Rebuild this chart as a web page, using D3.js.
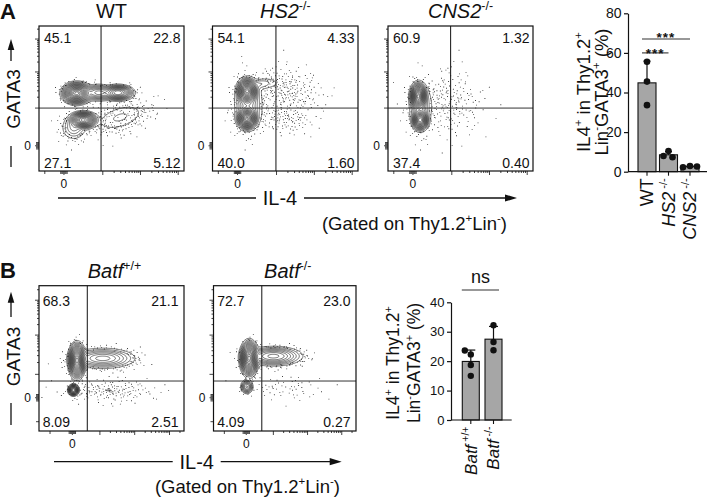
<!DOCTYPE html>
<html>
<head>
<meta charset="utf-8">
<script src="https://cdn.jsdelivr.net/npm/d3@7/dist/d3.min.js"></script>
<style>
html,body{margin:0;padding:0;background:#fff;}
svg{display:block;}
</style>
</head>
<body>
<svg id="fig" width="708" height="498" viewBox="0 0 708 498"></svg>
<script>
// ====================== DATA ======================
// Flow plots: IL-4 (x) vs GATA3 (y), axis units = display-scale fraction 0..1
const flowTitlesA = [[["WT"]], [["HS2","i"],["-/-","s"]], [["CNS2","i"],["-/-","s"]]];
const flowTitlesB = [[["Batf","i"],["+/+","s"]], [["Batf","i"],["-/-","s"]]];
const quadrantsA = [["45.1","22.8","27.1","5.12"], ["54.1","4.33","40.0","1.60"], ["60.9","1.32","37.4","0.40"]];
const quadrantsB = [["68.3","21.1","8.09","2.51"], ["72.7","23.0","4.09","0.27"]];
const gatesA = [[0.428,0.434],[0.436,0.434],[0.432,0.434]];
const gatesB = [[0.333,0.344],[0.339,0.344]];
// cell populations: [centerX, centerY, sdX, sdY, weight, correlation]
const popsWT = [[0.26,0.536,0.038,0.028,0.38,0],[0.545,0.54,0.042,0.021,0.16,0],[0.41,0.54,0.045,0.024,0.07,0],
                [0.305,0.352,0.036,0.022,0.22,0],[0.24,0.30,0.04,0.04,0.03,0],[0.56,0.37,0.1,0.055,0.035,0.45]];
const popsHS2 = [[0.238,0.55,0.026,0.033,0.40,0],[0.238,0.363,0.026,0.028,0.33,0],[0.245,0.455,0.045,0.08,0.13,0],
                 [0.33,0.6,0.05,0.02,0.012,0.3],[0.5,0.56,0.11,0.07,0.032,-0.2],[0.48,0.37,0.09,0.05,0.018,0]];
const popsCNS2 = [[0.209,0.515,0.021,0.035,0.48,0],[0.222,0.352,0.021,0.027,0.3,0],[0.222,0.44,0.036,0.075,0.12,0],
                  [0.4,0.47,0.11,0.1,0.035,0]];
const popsBatfWT = [[0.262,0.485,0.022,0.045,0.55,0],[0.44,0.50,0.095,0.03,0.22,0],[0.237,0.282,0.014,0.015,0.07,0],
                    [0.48,0.28,0.14,0.035,0.025,0]];
const popsBatfKO = [[0.25,0.50,0.024,0.045,0.6,0],[0.42,0.515,0.085,0.028,0.24,0],[0.234,0.305,0.018,0.02,0.035,0],
                    [0.5,0.3,0.12,0.04,0.006,0]];
// axis ticks of flow plots (display-scale positions)
const flowYTicksA = {zero:0.174, majors:[0.434,0.683,0.91], neg:[]};
const flowXTicksA = {zero:0.172, majors:[0.44,0.70,0.96], neg:[0.04]};
const flowYTicksB = {zero:0.229, majors:[0.39,0.66,0.90], neg:[0.064]};
const flowXTicksB = {zero:0.23, majors:[0.42,0.66,0.90], neg:[0.076]};

// Bar chart A
const barCatsA = ["WT","HS2","CNS2"];
const barLabelsA = [[["WT"]], [["HS2","i"],["\u00a0-/-","s"]], [["CNS2","i"],["\u00a0-/-","s"]]];
const barPointsA = [[55.5,45.5,33.6],[10.4,7.9,7.3],[2.9,2.2,2.6]];
const barTicksA = [0,20,40,60,80];
const sigA = [{a:"WT",b:"HS2",y:60,label:"***"},{a:"WT",b:"CNS2",y:67,label:"***"}];
// Bar chart B
const barCatsB = ["Batf+/+","Batf-/-"];
const barLabelsB = [[["Batf","i"],["\u00a0+/+","s"]], [["Batf","i"],["\u00a0-/-","s"]]];
const barPointsB = [[22.3,23.6,18.7,15.0],[32.2,26.5,23.7]];
const barTicksB = [0,10,20,30,40];
const sigB = [{a:"Batf+/+",b:"Batf-/-",y:44.2,label:"ns"}];

// ====================== DRAWING ======================
const FONT = '"Liberation Sans", Arial, Helvetica, sans-serif';
const svg = d3.select("#fig").attr("font-family", FONT);
const INK = "#111";

function rich(sel, parts, fs) {
  let up = false;
  parts.forEach(([t, st]) => {
    const ts = sel.append("tspan").text(t);
    const s = st || "";
    if (s.includes("i")) ts.attr("font-style", "italic");
    if (s.includes("s")) {
      ts.attr("font-size", fs * 0.62);
      if (!up) { ts.attr("dy", -fs * 0.42); up = true; }
    } else if (up) { ts.attr("dy", fs * 0.42); up = false; }
  });
  return sel;
}

const levelsRel = [0.009,0.018,0.03,0.045,0.065,0.09,0.12,0.16,0.21,0.27,0.34,0.42,0.51,0.61,0.72,0.84,0.94];
const LOW = 0.009;
function dotP(r) {
  if (r < LOW) return 0.14 * Math.pow(r / LOW, 0.7);
  if (r < 2.5 * LOW) return 0.14 * (1 - (r - LOW) / (1.5 * LOW));
  return 0;
}
function halton(n, b) { let f = 1, r = 0; while (n > 0) { f /= b; r += f * (n % b); n = Math.floor(n / b); } return r; }
let clipId = 0;
function flowPlot(box, pops, gate, quad, title, xt, yt, o) {
  const g = svg.append("g");
  const x = d3.scaleLinear().domain([0,1]).range([box.x, box.x + box.w]);
  const y = d3.scaleLinear().domain([0,1]).range([box.y + box.h, box.y]);
  const nx = Math.round(box.w), ny = Math.round(box.h);
  const vals = new Float64Array(nx * ny);
  for (let j = 0; j < ny; j++) {
    const yn = y.invert(box.y + (j + 0.5) * box.h / ny);
    for (let i = 0; i < nx; i++) {
      const xn = x.invert(box.x + (i + 0.5) * box.w / nx);
      let s = 0;
      for (const [cx, cy, sx, sy, w, rho] of pops) {
        const dx = (xn - cx) / sx, dy = (yn - cy) / sy;
        const k = 1 - rho * rho;
        s += w / (2 * Math.PI * sx * sy * Math.sqrt(k)) * Math.exp(-(dx*dx - 2*rho*dx*dy + dy*dy) / (2 * k));
      }
      vals[j * nx + i] = s;
    }
  }
  const max = d3.max(vals);
  const id = "clip" + (clipId++);
  svg.append("clipPath").attr("id", id).append("rect")
    .attr("x", box.x).attr("y", box.y).attr("width", box.w).attr("height", box.h);
  const gc = g.append("g").attr("clip-path", `url(#${id})`);
  // outlier events: low-discrepancy (Halton) stipple weighted by population density
  let dp = "";
  for (let n = 1; n <= 26000; n++) {
    const u = halton(n, 2), v = halton(n, 3), t = halton(n, 5);
    const i = Math.min(nx - 1, Math.floor(u * nx)), j = Math.min(ny - 1, Math.floor(v * ny));
    if (t < dotP(vals[j * nx + i] / max)) {
      const px = box.x + u * box.w, py = box.y + v * box.h;
      dp += `M${px.toFixed(1)},${py.toFixed(1)}h0.85v0.85h-0.85z`;
    }
  }
  gc.append("path").attr("d", dp).attr("fill", "#222");
  const cont = d3.contours().size([nx, ny]).thresholds(levelsRel.map(l => l * max))(vals);
  gc.append("g").attr("transform", `translate(${box.x},${box.y}) scale(${box.w/nx},${box.h/ny})`)
    .selectAll("path").data(cont).join("path")
    .attr("d", d3.geoPath())
    .attr("fill", "none").attr("stroke", "#151515").attr("stroke-width", 0.6)
    .attr("vector-effect", "non-scaling-stroke");
  // gates
  g.append("line").attr("x1", x(gate[0])).attr("x2", x(gate[0])).attr("y1", box.y).attr("y2", box.y + box.h)
    .attr("stroke", INK).attr("stroke-width", 1);
  g.append("line").attr("x1", box.x).attr("x2", box.x + box.w).attr("y1", y(gate[1])).attr("y2", y(gate[1]))
    .attr("stroke", "#333").attr("stroke-width", 1);
  // frame
  g.append("rect").attr("x", box.x).attr("y", box.y).attr("width", box.w).attr("height", box.h)
    .attr("fill", "none").attr("stroke", INK).attr("stroke-width", 1.2);
  // ticks
  const tk = (arr) => {
    const out = [];
    arr.majors.forEach((m, k) => {
      out.push([m, 4]);
      const nxt = k < arr.majors.length - 1 ? arr.majors[k+1] : m + (m - arr.majors[k-1]);
      for (let q = 2; q <= 9; q++) { const p = m + (nxt - m) * Math.log10(q); if (p < 1) out.push([p, 2]); }
    });
    [-0.022,-0.014,-0.007,0.007,0.014,0.022].forEach(d => out.push([arr.zero + d, 3]));
    out.push([arr.zero, 4]);
    arr.neg.forEach(p => out.push([p, 3]));
    return out;
  };
  g.append("g").selectAll("line").data(tk(yt)).join("line")
    .attr("x1", box.x).attr("x2", d => box.x - d[1]).attr("y1", d => y(d[0])).attr("y2", d => y(d[0]))
    .attr("stroke", INK).attr("stroke-width", 0.8);
  g.append("g").selectAll("line").data(tk(xt)).join("line")
    .attr("y1", box.y + box.h).attr("y2", d => box.y + box.h + d[1]).attr("x1", d => x(d[0])).attr("x2", d => x(d[0]))
    .attr("stroke", INK).attr("stroke-width", 0.8);
  g.append("text").attr("x", box.x - 8).attr("y", y(yt.zero) + 4).attr("text-anchor", "end")
    .attr("font-size", 12).attr("fill", INK).text("0");
  g.append("text").attr("x", x(xt.zero)).attr("y", box.y + box.h + 16.5).attr("text-anchor", "middle")
    .attr("font-size", 12).attr("fill", INK).text("0");
  // quadrant frequencies
  const fs = 14;
  const pos = [[box.x + o.l, box.y + o.t, "start"], [box.x + box.w - o.r, box.y + o.t, "end"],
               [box.x + o.l, box.y + box.h - o.b, "start"], [box.x + box.w - o.r, box.y + box.h - o.b, "end"]];
  quad.forEach((q, k) => g.append("text").attr("x", pos[k][0]).attr("y", pos[k][1])
    .attr("text-anchor", pos[k][2]).attr("font-size", fs).attr("fill", INK).text(q));
  // title
  const tt = g.append("text").attr("x", box.x + box.w / 2 + o.tdx).attr("y", o.ty).attr("text-anchor", "middle")
    .attr("font-size", 20).attr("fill", INK);
  rich(tt, title, 20);
}

const boxesA = [{x:39,y:26,w:145,h:145},{x:212.5,y:26,w:145.5,h:145},{x:388,y:26,w:145,h:145}];
const boxesB = [{x:39,y:285.7,w:145,h:145.3},{x:213.5,y:285.7,w:142.5,h:145.3}];
const popsA = [popsWT, popsHS2, popsCNS2], popsB = [popsBatfWT, popsBatfKO];
boxesA.forEach((b, i) => flowPlot(b, popsA[i], gatesA[i], quadrantsA[i], flowTitlesA[i], flowXTicksA, flowYTicksA,
  {l:5, r:3.5, t:17, b:3, ty:18.3, tdx:0}));
boxesB.forEach((b, i) => flowPlot(b, popsB[i], gatesB[i], quadrantsB[i], flowTitlesB[i], flowXTicksB, flowYTicksB,
  {l:3.7, r:5.5, t:20.3, b:4.5, ty:278, tdx:3}));

// panel letters
svg.append("text").attr("x", 0).attr("y", 18.5).attr("font-size", 22).attr("font-weight", "bold").attr("fill", INK).text("A");
svg.append("text").attr("x", 0).attr("y", 278).attr("font-size", 22).attr("font-weight", "bold").attr("fill", INK).text("B");

// axis titles of flow plots
function yArrowTitle(cx, yTip, yTop, yMid, yDashTop, yDashBot) {
  svg.append("text").attr("transform", `translate(${cx + 8.5},${yMid}) rotate(-90)`).attr("text-anchor", "middle")
    .attr("font-size", 19).attr("fill", INK).text("GATA3");
  svg.append("line").attr("x1", cx).attr("x2", cx).attr("y1", yDashTop).attr("y2", yDashBot).attr("stroke", INK).attr("stroke-width", 1.3);
  svg.append("line").attr("x1", cx).attr("x2", cx).attr("y1", yTop).attr("y2", yTip + 8).attr("stroke", INK).attr("stroke-width", 1.3);
  svg.append("path").attr("d", `M${cx},${yTip}L${cx-3.3},${yTip+11}L${cx+3.3},${yTip+11}Z`).attr("fill", INK);
}
yArrowTitle(11, 39, 61, 99, 146, 167);
yArrowTitle(11, 291.7, 317, 356.5, 403, 425);

function xArrowTitle(x0, x1, xTip, cx, yl, gx, gy) {
  svg.append("text").attr("x", cx).attr("y", yl + 7).attr("text-anchor", "middle").attr("font-size", 20).attr("fill", INK).text("IL-4");
  svg.append("line").attr("x1", x0).attr("x2", cx - 24).attr("y1", yl).attr("y2", yl).attr("stroke", INK).attr("stroke-width", 1.3);
  svg.append("line").attr("x1", cx + 24).attr("x2", xTip - 8).attr("y1", yl).attr("y2", yl).attr("stroke", INK).attr("stroke-width", 1.3);
  svg.append("path").attr("d", `M${xTip},${yl}L${xTip-12},${yl-3.6}L${xTip-12},${yl+3.6}Z`).attr("fill", INK);
  const t = svg.append("text").attr("x", gx).attr("y", gy).attr("text-anchor", "end").attr("font-size", 18.5).attr("fill", INK);
  rich(t, [["(Gated on Thy1.2"],["+","s"],["Lin"],["-","s"],[")"]], 18.5);
}
xArrowTitle(58, 509, 517, 280, 198, 507, 230);
xArrowTitle(54, 334, 341.7, 196.7, 461.7, 340, 492.5);

// ---------- bar charts ----------
function dodge(vals, y, r) {
  const placed = [];
  return vals.map(v => {
    const py = y(v); let off = 0;
    for (let k = 0; k < 60; k++) {
      const c = k === 0 ? 0 : (k % 2 ? -Math.ceil(k / 2) : Math.ceil(k / 2));
      if (placed.every(p => Math.hypot(p.x - c, p.y - py) >= 2 * r + 0.3)) { off = c; break; }
    }
    placed.push({x: off, y: py});
    return {v, dx: off, py};
  });
}
function barChart(c) {
  const g = svg.append("g");
  const y = d3.scaleLinear().domain([0, c.ticks[c.ticks.length - 1]]).range(c.yRange);
  const x = d3.scalePoint().domain(c.cats).range(c.centers);
  const st = c.cats.map((k, i) => ({k, m: d3.mean(c.points[i]), sd: d3.deviation(c.points[i]), pts: c.points[i]}));
  g.selectAll("rect").data(st).join("rect")
    .attr("x", d => x(d.k) - c.bw / 2).attr("y", d => y(d.m)).attr("width", c.bw).attr("height", d => y(0) - y(d.m))
    .attr("fill", "#a6a6a6").attr("stroke", INK).attr("stroke-width", 1.1);
  st.forEach(d => {
    const xc = x(d.k), yt = y(d.m + d.sd);
    g.append("line").attr("x1", xc).attr("x2", xc).attr("y1", y(d.m)).attr("y2", yt).attr("stroke", INK).attr("stroke-width", 1.2);
    g.append("line").attr("x1", xc - c.cap).attr("x2", xc + c.cap).attr("y1", yt).attr("y2", yt).attr("stroke", INK).attr("stroke-width", 1.2);
    g.append("g").selectAll("circle").data(dodge(d.pts, y, c.r)).join("circle")
      .attr("cx", p => xc + p.dx).attr("cy", p => p.py).attr("r", c.r).attr("fill", INK);
  });
  const ax = g.append("g").attr("transform", `translate(${c.axisX},0)`)
    .call(d3.axisLeft(y).tickValues(c.ticks).tickSize(4).tickSizeOuter(0).tickPadding(2.5));
  ax.attr("font-family", FONT).attr("font-size", c.fs);
  ax.selectAll("line,path").attr("stroke", INK).attr("stroke-width", 1.2);
  ax.selectAll("text").attr("fill", INK);
  g.append("line").attr("x1", c.axisX).attr("x2", c.xEnd).attr("y1", y(0)).attr("y2", y(0)).attr("stroke", INK).attr("stroke-width", 1.2);
  g.append("g").selectAll("line").data(c.cats).join("line").attr("x1", d => x(d)).attr("x2", d => x(d))
    .attr("y1", y(0)).attr("y2", y(0) + 4).attr("stroke", INK).attr("stroke-width", 1.1);
  c.labels.forEach((l, i) => {
    const t = g.append("text").attr("transform", `translate(${x(c.cats[i]) + c.lfs * 0.34},${y(0) + 6.5}) rotate(-90)`)
      .attr("text-anchor", "end").attr("font-size", c.lfs).attr("fill", INK);
    rich(t, l, c.lfs);
  });
  // y title
  const t1 = g.append("text").attr("transform", `translate(${c.t1x},${c.ty}) rotate(-90)`).attr("text-anchor", "middle")
    .attr("font-size", c.tfs).attr("fill", INK);
  rich(t1, [["IL4"],["+","s"],[" in Thy1.2"],["+","s"]], c.tfs);
  const t2 = g.append("text").attr("transform", `translate(${c.t2x},${c.ty}) rotate(-90)`).attr("text-anchor", "middle")
    .attr("font-size", c.tfs).attr("fill", INK);
  rich(t2, [["Lin"],["-","s"],["GATA3"],["+","s"],[" (%)"]], c.tfs);
  // significance
  c.sig.forEach((s, k) => {
    const x1 = x(s.a) + c.sigOff[0], x2 = x(s.b) + c.sigOff[1], yy = y(s.y);
    g.append("line").attr("x1", x1).attr("x2", x2).attr("y1", yy).attr("y2", yy).attr("stroke", "#333").attr("stroke-width", 1.1);
    g.append("text").attr("x", (x1 + x2) / 2).attr("y", yy + c.sigDy[k]).attr("text-anchor", "middle")
      .attr("font-size", c.sigFs).attr("font-weight", c.sigW).attr("letter-spacing", c.sigLs).attr("fill", INK).text(s.label);
  });
}
barChart({cats: barCatsA, labels: barLabelsA, points: barPointsA, ticks: barTicksA, yRange: [171.7, 13.3],
  centers: [647, 690], bw: 18, cap: 3.5, r: 3.3, axisX: 628, xEnd: 707, fs: 14, lfs: 18,
  t1x: 590, t2x: 608, ty: 92, tfs: 18.5, sig: sigA, sigOff: [-5, 0], sigDy: [5, 2.8], sigFs: 13.5, sigW: "bold", sigLs: 1});
barChart({cats: barCatsB, labels: barLabelsB, points: barPointsB, ticks: barTicksB, yRange: [420, 302.3],
  centers: [470.8, 493.5], bw: 17, cap: 4.5, r: 3.2, axisX: 451, xEnd: 511.7, fs: 13, lfs: 17,
  t1x: 399, t2x: 420, ty: 363, tfs: 17.5, sig: sigB, sigOff: [-9, 5.5], sigDy: [-7], sigFs: 18, sigW: "normal", sigLs: 0});
</script>
</body>
</html>
